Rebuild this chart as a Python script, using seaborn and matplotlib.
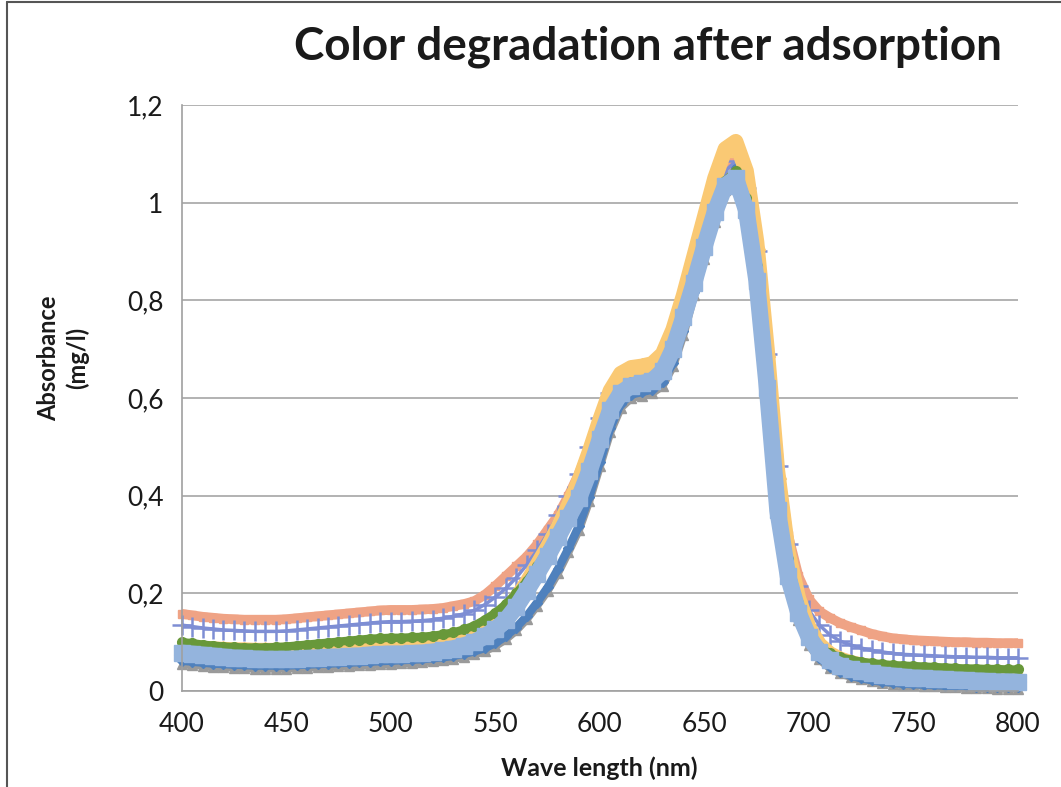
import matplotlib
matplotlib.use("Agg")
import matplotlib.pyplot as plt
import seaborn as sns
from matplotlib.lines import Line2D
from matplotlib.ticker import FuncFormatter, MultipleLocator

# wavelength grid (nm)
wavelength = list(range(400, 805, 5))

salmon = [.158, .155, .152, .150, .148, .147, .146, .146, .146, .146,
          .147, .149, .151, .153, .155, .157, .159, .161, .163, .165,
          .166, .166, .166, .167, .168, .170, .174, .178, .184, .197,
          .215, .235, .255, .275, .300, .330, .360, .400, .445, .500,
          .560, .610, .645, .655, .655, .660, .675, .715, .785, .865,
          .945, 1.015, 1.070, 1.090, 1.040, .910, .710, .480, .320, .235,
          .188, .163, .150, .139, .131, .124, .117, .112, .108, .106,
          .104, .103, .102, .101, .100, .100, .099, .099, .098, .098,
          .098]

purple = [.135, .132, .129, .127, .125, .124, .123, .122, .122, .122,
          .123, .125, .127, .129, .131, .133, .135, .137, .139, .141,
          .142, .142, .143, .144, .146, .149, .153, .158, .165, .177,
          .192, .210, .232, .258, .288, .322, .360, .400, .445, .500,
          .560, .610, .640, .645, .645, .650, .665, .710, .780, .860,
          .940, 1.010, 1.065, 1.085, 1.030, .900, .690, .460, .300, .215,
          .165, .135, .115, .102, .094, .088, .083, .080, .077, .075,
          .074, .073, .072, .071, .070, .070, .069, .069, .068, .068,
          .068]

grey = [.056, .054, .052, .050, .049, .048, .047, .046, .046, .046,
        .046, .047, .048, .049, .050, .051, .052, .053, .054, .055,
        .056, .057, .058, .059, .061, .063, .066, .070, .075, .082,
        .092, .106, .124, .147, .175, .205, .242, .285, .330, .390,
        .460, .530, .580, .600, .605, .610, .625, .665, .730, .810,
        .885, .960, 1.025, 1.065, 1.000, .850, .620, .370, .225, .145,
        .095, .065, .047, .036, .029, .024, .020, .017, .015, .013,
        .012, .011, .010, .009, .008, .007, .006, .006, .005, .005,
        .005]

blue = [.062, .060, .058, .056, .055, .054, .053, .052, .052, .052,
        .052, .053, .054, .055, .056, .057, .058, .059, .060, .061,
        .062, .063, .064, .065, .067, .069, .072, .076, .081, .088,
        .098, .112, .130, .153, .181, .212, .250, .292, .338, .398,
        .468, .538, .588, .607, .612, .617, .632, .672, .738, .818,
        .893, .968, 1.030, 1.070, 1.005, .855, .625, .375, .228, .148,
        .098, .068, .050, .039, .031, .026, .022, .019, .017, .015,
        .014, .013, .012, .011, .010, .010, .009, .009, .009, .008,
        .008]

green = [.100, .098, .095, .093, .091, .090, .089, .089, .089, .090,
         .091, .093, .095, .097, .099, .101, .103, .105, .107, .108,
         .109, .109, .110, .111, .113, .116, .120, .126, .134, .146,
         .160, .178, .200, .225, .255, .290, .325, .365, .405, .460,
         .525, .585, .615, .625, .625, .630, .650, .695, .765, .840,
         .920, .990, 1.045, 1.065, 1.010, .870, .650, .410, .270, .180,
         .120, .090, .077, .069, .064, .060, .057, .055, .053, .052,
         .051, .050, .049, .048, .047, .046, .046, .045, .045, .044,
         .044]

yellow = [.090, .088, .087, .086, .085, .084, .084, .083, .083, .083,
          .083, .084, .085, .086, .087, .088, .089, .090, .091, .092,
          .093, .093, .094, .095, .096, .098, .101, .106, .114, .126,
          .142, .162, .190, .222, .258, .295, .335, .380, .430, .490,
          .555, .615, .650, .662, .665, .670, .690, .740, .810, .890,
          .970, 1.050, 1.110, 1.125, 1.065, .920, .700, .450, .285, .190,
          .130, .095, .076, .065, .058, .053, .049, .046, .044, .042,
          .041, .040, .039, .038, .037, .037, .036, .036, .035, .035,
          .035]

light_blue = [.078, .076, .074, .072, .070, .068, .067, .066, .065, .065,
              .065, .066, .067, .068, .069, .070, .071, .072, .074, .075,
              .076, .076, .077, .078, .080, .083, .087, .093, .100, .112,
              .126, .145, .172, .205, .240, .276, .315, .355, .395, .450,
              .515, .575, .610, .625, .630, .635, .655, .700, .765, .835,
              .910, .980, 1.035, 1.050, .985, .840, .620, .370, .235, .160,
              .110, .080, .063, .052, .045, .040, .036, .033, .031, .029,
              .027, .026, .025, .024, .023, .022, .021, .020, .019, .019,
              .018]

# series in drawing order: values, colour, marker, marker size, line width
series = [
    (salmon, "#EFA385", "s", 6, 7),
    (purple, "#7E8ED4", "+", 14, 2.5),
    (grey, "#9A9A9A", "^", 7, 6),
    (blue, "#4F81BD", "D", 5, 6),
    (yellow, "#FAC974", "^", 12, 11),
    (green, "#68983A", "o", 7, 6),
    (light_blue, "#94B4DD", "s", 12, 12),
]

sns.set_theme(style="white")
plt.rcParams["font.family"] = ["Lato", "DejaVu Sans"]

fig = plt.figure(figsize=(10.61, 7.87), dpi=100)
ax = fig.add_axes([0.1712, 0.122, 0.7883, 0.7446])

for vals, col, mk, ms, lw in series:
    sns.lineplot(x=wavelength, y=vals, ax=ax, color=col, marker=mk, markersize=ms,
                 linewidth=lw, markeredgecolor=col, markeredgewidth=1.8 if mk == "+" else 1,
                 estimator=None, sort=False, clip_on=False,
                 solid_joinstyle="round", solid_capstyle="butt")

ax.set_xlim(400, 800)
ax.set_ylim(0, 1.2)
ax.xaxis.set_major_locator(MultipleLocator(50))
ax.yaxis.set_major_locator(MultipleLocator(0.2))
ax.yaxis.set_major_formatter(FuncFormatter(lambda v, p: f"{v:g}".replace(".", ",")))
ax.grid(axis="y", color="#A6A6A6", linewidth=1.2)
ax.set_axisbelow(True)
for side in ["top", "right"]:
    ax.spines[side].set_visible(False)
for side in ["left", "bottom"]:
    ax.spines[side].set_color("#A0A0A0")
    ax.spines[side].set_linewidth(1.2)
ax.tick_params(axis="both", direction="out", length=6, width=1.2, color="#A0A0A0",
               labelsize=19, labelcolor="#1a1a1a")
ax.tick_params(axis="x", pad=9)
ax.tick_params(axis="y", pad=7)
ax.set_xlabel("")
ax.set_ylabel("")

fig.text(0.611, 0.94, "Color degradation after adsorption", ha="center", va="center",
         fontsize=33, fontweight="bold", color="#1a1a1a")
fig.text(0.565, 0.024, "Wave length (nm)", ha="center", va="center",
         fontsize=18, fontweight="bold", color="#1a1a1a")
fig.text(63 / 1061, 1 - 358 / 787, "Absorbance\n(mg/l)", ha="center", va="center",
         rotation=90, fontsize=17, fontweight="bold", color="#1a1a1a", linespacing=1.3)

# frame of the screenshot
fig.add_artist(Line2D([7 / 1061, 7 / 1061], [0, 1 - 2 / 787], color="#555555", lw=1.5))
fig.add_artist(Line2D([7 / 1061, 1], [1 - 2 / 787, 1 - 2 / 787], color="#555555", lw=1.5))

fig.savefig("out.png", dpi=100)
